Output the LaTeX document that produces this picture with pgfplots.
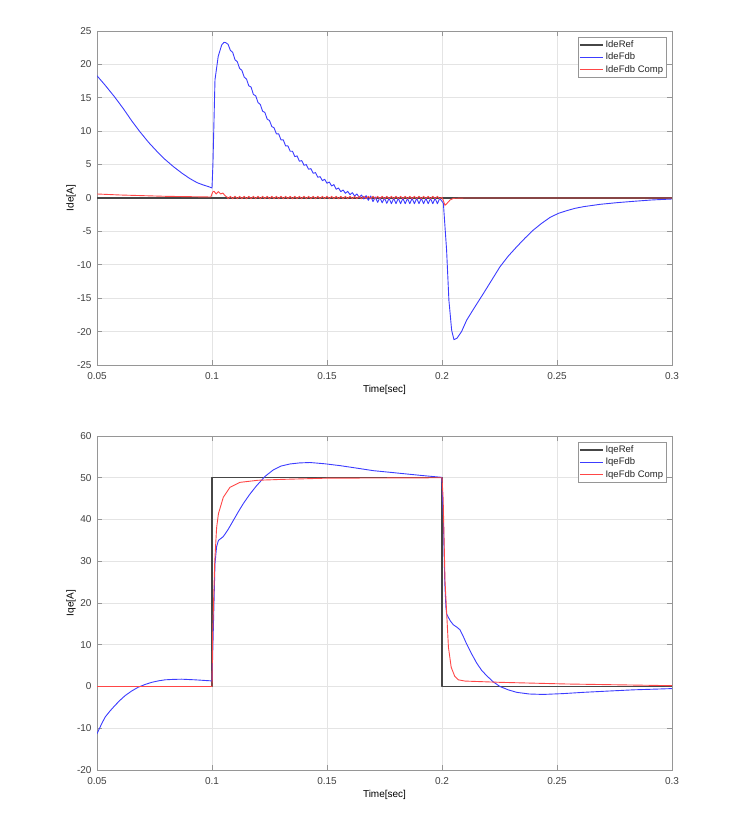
\documentclass[border=0pt]{standalone}
\usepackage{fontspec}
\setmainfont{Liberation Sans}
\usepackage{pgfplots}
\pgfplotsset{compat=1.18}
\definecolor{mblue}{RGB}{60,60,255}
\definecolor{mred}{RGB}{255,70,70}
\definecolor{mref}{RGB}{70,70,70}
\definecolor{tickc}{RGB}{64,64,64}
\definecolor{gridc}{RGB}{228,228,228}
\definecolor{axc}{RGB}{150,150,150}
\pgfplotsset{
 mystyle/.style={
  scale only axis, width=575pt, height=334pt,
  xmin=0.05, xmax=0.3,
  xtick={0.05,0.1,0.15,0.2,0.25,0.3},
  xticklabels={0.05,0.1,0.15,0.2,0.25,0.3},
  grid=major, major grid style={gridc, line width=0.6pt},
  axis line style={axc, line width=0.8pt},
  tick style={axc, line width=0.6pt},
  tick align=inside, tick pos=both,
  major tick length=5pt,
  ticklabel style={font=\fontsize{10}{11}\selectfont, text=tickc},
  xticklabel style={yshift=-4pt},
  yticklabel style={xshift=-2pt},
  label style={font=\fontsize{10}{11}\selectfont, text=black!85},
  every axis x label/.style={at={(axis description cs:0.5,-0.075)}, anchor=center},
  every axis y label/.style={at={(axis description cs:-0.045,0.5)}, rotate=90, anchor=center},
  xlabel={Time[sec]},
  legend style={at={(0.991,0.982)}, anchor=north east, draw=axc, fill=white,
     font=\fontsize{9.5}{10.5}\selectfont, text=black!85, inner sep=1.5pt, row sep=0pt,
     cells={anchor=west}},
  legend image code/.code={\draw[##1] (0pt,0pt) -- (23pt,0pt);},
  every axis plot/.append style={line width=0.9pt, line join=round},
 }
}
\begin{document}
\begin{tikzpicture}
\useasboundingbox (0,0) rectangle (743pt,815pt);
% ---------------- top: Ide ----------------
\begin{axis}[mystyle, at={(97pt,450pt)}, anchor=south west,
  ymin=-25, ymax=25,
  ytick={-25,-20,-15,-10,-5,0,5,10,15,20,25},
  yticklabels={-25,-20,-15,-10,-5,0,5,10,15,20,25},
  ylabel={Ide[A]}]
\addplot[mref, line width=1.2pt] coordinates {(0.05,0) (0.3,0)};
\addlegendentry{IdeRef}
\addplot[mblue] coordinates {
(0.05,18.3) (0.0535,16.9) (0.0575,15.2) (0.0614,13.4) (0.065,11.6) (0.0687,9.9)
(0.0725,8.3) (0.076,7.0) (0.0795,5.8) (0.0832,4.7) (0.087,3.7) (0.0904,2.9)
(0.0935,2.3) (0.0962,1.95) (0.0985,1.7) (0.1,1.5)
(0.1004,5) (0.1013,17.7) (0.1027,21.2) (0.1042,22.9) (0.1052,23.3) (0.106,23.25) (0.107,23.0)
(0.108,22.1) (0.109,21.8) (0.110,20.7) (0.111,20.4) (0.112,19.4) (0.113,19.1)
(0.114,18.1) (0.115,17.8) (0.116,16.8) (0.117,16.6) (0.118,15.5) (0.119,15.3)
(0.120,14.3) (0.121,14.0) (0.122,13.0) (0.123,12.8) (0.124,11.8) (0.125,11.6)
(0.126,10.7) (0.127,10.5) (0.128,9.6) (0.129,9.6) (0.130,8.7) (0.131,8.7)
(0.132,7.8) (0.133,7.8) (0.134,7.0) (0.135,7.0) (0.136,6.2) (0.137,6.3)
(0.138,5.5) (0.139,5.6) (0.140,4.9) (0.141,5.0) (0.142,4.3) (0.143,4.4)
(0.144,3.7) (0.145,3.8) (0.146,3.1) (0.147,3.2) (0.148,2.6) (0.149,2.8)
(0.150,2.2) (0.151,2.4) (0.152,1.8) (0.153,2.0) (0.154,1.3) (0.155,1.5)
(0.156,0.95) (0.157,1.2) (0.158,0.7) (0.159,1.0) (0.160,0.5) (0.161,0.8)
(0.162,0.3) (0.163,0.6) (0.164,0.1) (0.165,0.45) (0.166,-0.15) (0.167,0.35)
(0.168,-0.35) (0.169,0.3) (0.170,-0.55) (0.171,0.15) (0.172,-0.65) (0.173,0.05)
(0.174,-0.72) (0.175,0.0) (0.176,-0.8) (0.177,-0.05) (0.178,-0.85) (0.179,-0.05)
(0.180,-0.85) (0.181,-0.05) (0.182,-0.85) (0.183,-0.05) (0.184,-0.85) (0.185,-0.05)
(0.186,-0.85) (0.187,-0.05) (0.188,-0.85) (0.189,-0.05) (0.190,-0.85) (0.191,-0.05)
(0.192,-0.85) (0.193,-0.05) (0.194,-0.85) (0.195,-0.05) (0.196,-0.85) (0.197,-0.05)
(0.198,-0.85) (0.199,-0.05) (0.2,-0.5)
(0.2006,-0.8) (0.202,-7.8) (0.203,-15.3) (0.2042,-19.8) (0.2052,-21.2) (0.2065,-21.0)
(0.2085,-20.0) (0.2107,-18.3) (0.2143,-16.3) (0.218,-14.3) (0.2216,-12.3) (0.2252,-10.3)
(0.2288,-8.7) (0.2325,-7.3) (0.2361,-6.0) (0.2397,-4.8) (0.2433,-3.8) (0.247,-2.9)
(0.2506,-2.3) (0.2542,-1.9) (0.2578,-1.55) (0.2615,-1.3) (0.2687,-0.95) (0.276,-0.7)
(0.2832,-0.5) (0.291,-0.3) (0.3,-0.15)
};
\addlegendentry{IdeFdb}
\addplot[mred] coordinates {
(0.05,0.6) (0.06,0.45) (0.07,0.35) (0.08,0.25) (0.09,0.2) (0.0995,0.15)
(0.1003,0.9) (0.1009,1.0) (0.1018,0.6) (0.1028,0.95) (0.1038,0.6) (0.1047,0.75)
(0.1058,0.3) (0.1065,0.15) (0.107,-0.1)
(0.108,0.25) (0.109,-0.1) (0.110,0.25) (0.111,-0.1) (0.112,0.25) (0.113,-0.1)
(0.114,0.25) (0.115,-0.1) (0.116,0.25) (0.117,-0.1) (0.118,0.25) (0.119,-0.1)
(0.120,0.25) (0.121,-0.1) (0.122,0.25) (0.123,-0.1) (0.124,0.25) (0.125,-0.1)
(0.126,0.25) (0.127,-0.1) (0.128,0.25) (0.129,-0.1) (0.130,0.25) (0.131,-0.1)
(0.132,0.25) (0.133,-0.1) (0.134,0.25) (0.135,-0.1) (0.136,0.25) (0.137,-0.1)
(0.138,0.25) (0.139,-0.1) (0.140,0.25) (0.141,-0.1) (0.142,0.25) (0.143,-0.1)
(0.144,0.25) (0.145,-0.1) (0.146,0.25) (0.147,-0.1) (0.148,0.25) (0.149,-0.1)
(0.150,0.25) (0.151,-0.1) (0.152,0.25) (0.153,-0.1) (0.154,0.25) (0.155,-0.1)
(0.156,0.25) (0.157,-0.1) (0.158,0.25) (0.159,-0.1) (0.160,0.25) (0.161,-0.1)
(0.162,0.25) (0.163,-0.1) (0.164,0.25) (0.165,-0.1) (0.166,0.25) (0.167,-0.1)
(0.168,0.25) (0.169,-0.1) (0.170,0.25) (0.171,-0.1) (0.172,0.25) (0.173,-0.1)
(0.174,0.25) (0.175,-0.1) (0.176,0.25) (0.177,-0.1) (0.178,0.25) (0.179,-0.1)
(0.180,0.25) (0.181,-0.1) (0.182,0.25) (0.183,-0.1) (0.184,0.25) (0.185,-0.1)
(0.186,0.25) (0.187,-0.1) (0.188,0.25) (0.189,-0.1) (0.190,0.25) (0.191,-0.1)
(0.192,0.25) (0.193,-0.1) (0.194,0.25) (0.195,-0.1) (0.196,0.25) (0.197,-0.1)
(0.198,0.25) (0.199,-0.1) (0.2,0.1)
(0.2005,-0.3) (0.2013,-1.1) (0.2022,-0.8) (0.2035,-0.3) (0.205,-0.05) (0.21,0) (0.3,0)
};
\addlegendentry{IdeFdb Comp}
\end{axis}
% ---------------- bottom: Iqe ----------------
\begin{axis}[mystyle, at={(97pt,45pt)}, anchor=south west,
  ymin=-20, ymax=60,
  ytick={-20,-10,0,10,20,30,40,50,60},
  yticklabels={-20,-10,0,10,20,30,40,50,60},
  ylabel={Iqe[A]}]
\addplot[mref, line width=1.2pt] coordinates {(0.05,0) (0.1,0) (0.1,50) (0.2,50) (0.2,0) (0.3,0)};
\addlegendentry{IqeRef}
\addplot[mblue] coordinates {
(0.05,-11.3) (0.0518,-9.2) (0.0535,-7.35) (0.0556,-5.9) (0.0578,-4.55) (0.06,-3.3)
(0.0622,-2.2) (0.065,-1.1) (0.068,-0.15) (0.071,0.5) (0.0738,1.0) (0.0767,1.35)
(0.0796,1.6) (0.083,1.7) (0.0868,1.75) (0.0926,1.6) (0.0996,1.35) (0.1,1.3)
(0.1005,12) (0.1013,29.4) (0.102,33.5) (0.1028,35) (0.1049,35.9) (0.107,37.6)
(0.1093,39.8) (0.1115,41.9) (0.1136,43.8) (0.1165,46.1) (0.1194,48.1) (0.123,50.3)
(0.1267,51.9) (0.130,52.8) (0.1339,53.3) (0.138,53.55) (0.1426,53.65) (0.149,53.35)
(0.1557,52.9) (0.163,52.3) (0.1701,51.7) (0.1775,51.3) (0.1847,50.9) (0.192,50.5)
(0.1999,50.1)
(0.2006,40) (0.2012,25) (0.2017,19) (0.202,17.4) (0.2035,15.8) (0.2049,14.8)
(0.2065,14.2) (0.2078,13.6) (0.209,12.3) (0.2107,10.2) (0.213,7.7) (0.2151,5.6)
(0.2172,3.9) (0.2194,2.6) (0.2223,1.1) (0.2252,0) (0.2288,-0.8) (0.2325,-1.4)
(0.238,-1.8) (0.244,-1.9) (0.2527,-1.7) (0.2614,-1.4) (0.272,-1.1) (0.2832,-0.8)
(0.3,-0.5)
};
\addlegendentry{IqeFdb}
\addplot[mred] coordinates {
(0.05,0) (0.1,0) (0.1003,13) (0.1012,30) (0.102,38) (0.1028,41.4) (0.1049,45.3)
(0.1078,47.7) (0.1122,48.9) (0.12,49.4) (0.13,49.6) (0.15,49.9) (0.2,50)
(0.2005,45) (0.201,33) (0.2013,25.4) (0.2028,9.4) (0.204,4.6) (0.2055,2.5)
(0.2071,1.6) (0.21,1.3) (0.2252,1.0) (0.2542,0.6) (0.3,0.2)
};
\addlegendentry{IqeFdb Comp}
\end{axis}
\end{tikzpicture}
\end{document}
